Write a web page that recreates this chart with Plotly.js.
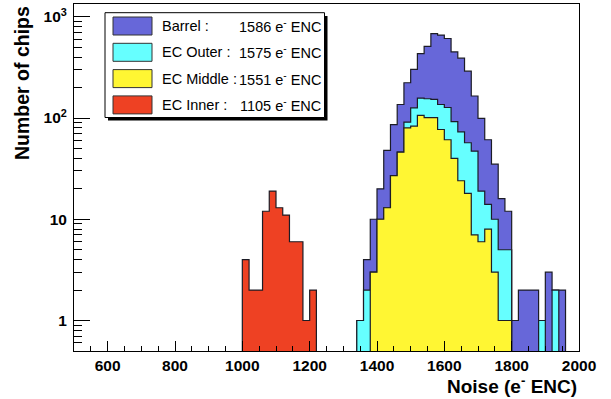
<!DOCTYPE html>
<html>
<head>
<meta charset="utf-8">
<script src="https://cdn.plot.ly/plotly-3.0.1.min.js"></script>
<style>html,body{margin:0;padding:0;background:#fff;}#chart{width:611px;height:399px;}</style>
</head>
<body>
<div id="chart"></div>
<script>
// ---- data (visible histogram heights, 20 e- ENC bins, lower edge = start + i*binWidth) ----
const binWidth = 20;
const barrelStart = 1340;
const barrelCounts = [1,4,10,20,48,86,136,223,302,432,510,680,660,610,449,390,290,165,99,61,35,16,12,1,2,2,2,1,3,2,2];
const outerStart = 1340;
const outerCounts = [1,2,3,10,13,27,46,91,126,157,155,153,136,127,92,73,57,47,19,14,10,5,5,0,0,0,0,1,0,2];
const middleStart = 1380;
const middleCounts = [3,10,13,27,46,80,83,106,101,101,77,61,40,24,18,7,6,8,3,1,1];
const innerStart = 1000;
const innerCounts = [4,2,2,12,19,13,11,6,6,1,2];

const seriesNames = ['Barrel :', 'EC Outer :', 'EC Middle :', 'EC Inner :'];
const seriesMeans = ['1586 e<sup>-</sup> ENC', '1575 e<sup>-</sup> ENC', '1551 e<sup>-</sup> ENC', '1105 e<sup>-</sup> ENC'];
const seriesColors = ['#6767d9', '#66ffff', '#fff633', '#ee4123'];

const xTickVals = [600, 800, 1000, 1200, 1400, 1600, 1800, 2000];
const yTickVals = [1, 10, 100, 1000];
const yTickText = ['1', '10', '10<sup>2</sup>', '10<sup>3</sup>'];

// ---- drawing ----
const FLOOR = 1e-2;
function stepTrace(start, counts, color) {
  const xs = [start], ys = [FLOOR];
  counts.forEach((c, i) => { xs.push(start + i * binWidth); ys.push(c > 0 ? c : FLOOR); });
  const end = start + counts.length * binWidth;
  const last = counts[counts.length - 1];
  xs.push(end); ys.push(last > 0 ? last : FLOOR);
  xs.push(end); ys.push(FLOOR);
  return {type: 'scatter', mode: 'lines', x: xs, y: ys,
    line: {shape: 'hv', color: '#1c1c26', width: 1.2},
    fill: 'toself', fillcolor: color, hoverinfo: 'skip', showlegend: false};
}

const traces = [
  stepTrace(barrelStart, barrelCounts, seriesColors[0]),
  stepTrace(outerStart, outerCounts, seriesColors[1]),
  stepTrace(middleStart, middleCounts, seriesColors[2]),
  stepTrace(innerStart, innerCounts, seriesColors[3])
];

const minorY = [];
[0.1, 1, 10, 100].forEach(d => { for (let k = 2; k <= 9; k++) minorY.push(k * d); });

// plot area in pixels
const L = 74, R = 32, T = 4, B = 48, W = 611, H = 399;
const pw = W - L - R, ph = H - T - B;
const px = v => (v - L) / pw;          // pixel x -> paper
const py = v => (H - B - v) / ph;      // pixel y -> paper

const FONT = 'Liberation Sans, Arial, Helvetica, sans-serif';
const shapes = [];
const annotations = [];

// legend (shadow, box, swatches, texts)
shapes.push({type: 'rect', xref: 'paper', yref: 'paper', x0: px(108), x1: px(327.5), y0: py(120.5), y1: py(16),
  fillcolor: '#000', line: {width: 0}, layer: 'above'});
shapes.push({type: 'rect', xref: 'paper', yref: 'paper', x0: px(105), x1: px(324.5), y0: py(117.5), y1: py(12.7),
  fillcolor: '#fff', line: {color: '#000', width: 1}, layer: 'above'});
const rowY = [26, 52.3, 78.6, 104.9];
seriesNames.forEach((n, i) => {
  shapes.push({type: 'rect', xref: 'paper', yref: 'paper', x0: px(113), x1: px(152), y0: py(rowY[i] + 9), y1: py(rowY[i] - 9),
    fillcolor: seriesColors[i], line: {color: '#333', width: 1}, layer: 'above'});
  annotations.push({xref: 'paper', yref: 'paper', x: px(160), y: py(rowY[i]), xanchor: 'left', yanchor: 'middle',
    text: n, showarrow: false, font: {family: FONT, size: 14.5, color: '#000'}});
  annotations.push({xref: 'paper', yref: 'paper', x: px(322.5), y: py(rowY[i]), xanchor: 'right', yanchor: 'middle',
    text: seriesMeans[i], showarrow: false, font: {family: FONT, size: 14.5, color: '#000'}});
});

// axis titles (ROOT style, right/top aligned)
annotations.push({xref: 'paper', yref: 'paper', x: 1, y: py(384.5), xanchor: 'right', yanchor: 'middle',
  text: '<b>Noise (e<sup>-</sup> ENC)</b>', showarrow: false, font: {family: FONT, size: 19, color: '#000'}});
annotations.push({xref: 'paper', yref: 'paper', x: px(22), y: 1.0, xanchor: 'center', yanchor: 'top', textangle: -90,
  text: '<b>Number of chips</b>', showarrow: false, font: {family: FONT, size: 19.5, color: '#000'}});

const layout = {
  width: W, height: H,
  margin: {l: L, r: R, t: T, b: B, pad: 0},
  paper_bgcolor: '#fff', plot_bgcolor: '#fff',
  showlegend: false,
  xaxis: {
    range: [500, 2000], tickmode: 'array', tickvals: xTickVals,
    ticks: 'inside', ticklen: 10, tickwidth: 1, tickcolor: '#000',
    showline: true, linecolor: '#000', linewidth: 1, mirror: true,
    showgrid: false, zeroline: false,
    tickfont: {family: FONT, size: 15.5, color: '#000', weight: 'bold'},
    minor: {tickmode: 'linear', tick0: 500, dtick: 50, ticks: 'inside', ticklen: 5, tickwidth: 1, tickcolor: '#000', showgrid: false}
  },
  yaxis: {
    type: 'log', range: [Math.log10(0.5), 3.126],
    tickmode: 'array', tickvals: yTickVals, ticktext: yTickText,
    ticks: 'inside', ticklen: 16, tickwidth: 1, tickcolor: '#000',
    showline: true, linecolor: '#000', linewidth: 1, mirror: true,
    showgrid: false, zeroline: false, ticklabelstandoff: 3,
    tickfont: {family: FONT, size: 15.5, color: '#000', weight: 'bold'},
    minor: {tickmode: 'array', tickvals: minorY, ticks: 'inside', ticklen: 8, tickwidth: 1, tickcolor: '#000', showgrid: false}
  },
  shapes: shapes,
  annotations: annotations
};

Plotly.newPlot('chart', traces, layout, {staticPlot: true, displayModeBar: false});
</script>
</body>
</html>
